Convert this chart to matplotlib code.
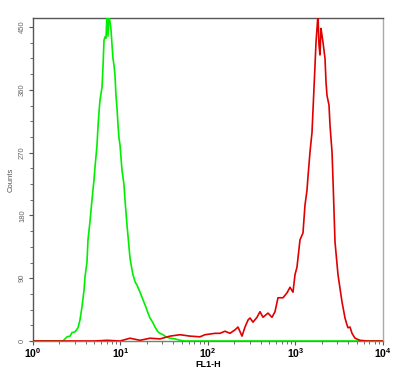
import matplotlib
matplotlib.use("Agg")
import matplotlib.pyplot as plt
from matplotlib.ticker import FixedLocator, NullFormatter, LogLocator

plt.rcParams['font.family'] = ['Liberation Sans', 'DejaVu Sans']
plt.rcParams['mathtext.fontset'] = 'custom'
plt.rcParams['mathtext.rm'] = 'Liberation Sans'
plt.rcParams['mathtext.bf'] = 'Liberation Sans:bold'

# Green histogram (FL1-H intensity, counts)
green_x = [1.0, 2.04, 2.20, 2.32, 2.45, 2.65, 2.79, 3.02, 3.27, 3.44, 3.63, 3.83, 3.93,
           4.14, 4.25, 4.48, 4.72, 4.98, 5.11, 5.39, 5.53, 5.68, 5.83, 5.99, 6.15,
           6.31, 6.48, 6.65, 6.83, 7.01, 7.20, 7.39, 7.59, 7.79, 8.00, 8.21, 8.43,
           8.65, 8.88, 9.12, 9.36, 9.61, 9.87, 10.4, 10.96, 11.26, 11.87, 12.84,
           13.53, 13.9, 14.65, 15.44, 16.71, 18.07, 19.05, 20.62, 21.74, 23.52,
           24.8, 26.83, 28.28, 30.6, 33.1, 36.8, 42.0, 47.9, 54.6, 10000.0]
green_y = [0, 0, 0, 3, 6, 7, 12, 13, 19, 30, 49, 73, 92,
           113, 145, 171, 202, 231, 249, 281, 307, 328, 345, 355, 364,
           393, 431, 436, 434, 468, 437, 468, 457, 446, 424, 405, 395,
           381, 352, 334, 310, 291, 281, 245, 224, 202, 166, 119,
           102, 95, 85, 80, 70, 59, 52, 40, 33, 26,
           20, 13, 11, 9, 6, 4, 3, 1, 0, 0]

# Red histogram
red_x = [1.0, 5.11, 7.01, 9.87, 12.84, 16.71, 21.74, 28.28, 36.8, 47.9, 62.3, 81.0,
         92.4, 105.4, 120.2, 137.1, 156.4, 178.4, 203.5, 220.2, 244.6, 264.8,
         286.5, 302.0, 326.9, 363.1, 392.9, 425.2, 485.1, 538.8, 583.1, 631.0,
         719.7, 799.6, 865.1, 936.3, 987.0, 1040, 1126, 1218, 1284, 1353, 1390,
         1465, 1544, 1585, 1671, 1715, 1761, 1807, 1856, 1905, 1956, 2009, 2062,
         2174, 2232, 2291, 2415, 2480, 2614, 2683, 2828, 3060, 3400, 3679, 3879,
         3981, 4197, 4424, 4786, 5459, 6563, 8103, 10000.0]
red_y = [0, 0, 1, 0, 4, 1, 4, 3, 7, 9, 7, 6,
         9, 10, 11, 11, 14, 11, 16, 20, 7, 20,
         30, 33, 27, 34, 42, 34, 40, 34, 42, 62,
         62, 69, 77, 70, 95, 106, 145, 155, 195, 216, 236,
         271, 299, 331, 395, 428, 448, 468, 424, 410, 448, 438, 428,
         405, 371, 352, 338, 309, 271, 231, 142, 95, 56, 33, 23,
         19, 20, 11, 4, 1, 0, 0, 0]

y_ticks = [0, 90, 180, 270, 360, 450]
x_ticks = [1, 10, 100, 1000, 10000]
x_labels = [r'$\mathbf{10^{0}}$', r'$\mathbf{10^{1}}$', r'$\mathbf{10^{2}}$',
            r'$\mathbf{10^{3}}$', r'$\mathbf{10^{4}}$']

fig = plt.figure(figsize=(4.02, 3.72), dpi=100)
ax = fig.add_axes([33/402, 31/372, 350/402, 323/372])

ax.plot(green_x, green_y, color='#00ee00', lw=1.2, zorder=3)
ax.plot(red_x, red_y, color='#e00000', lw=1.2, zorder=4)

ax.set_xscale('log')
ax.set_xlim(1, 10000)
ax.set_ylim(0, 463)

ax.set_xticks(x_ticks)
ax.set_xticklabels(x_labels, fontsize=7.5)
ax.xaxis.set_minor_locator(LogLocator(base=10, subs=range(2, 10)))
ax.xaxis.set_minor_formatter(NullFormatter())

ax.set_yticks(y_ticks)
ax.set_yticklabels([str(v) for v in y_ticks], fontsize=5.5, color='#666666',
                   rotation=90, va='center')
ax.yaxis.set_minor_locator(FixedLocator([22.5 * i for i in range(21)]))

ax.tick_params(axis='both', which='major', direction='out', length=3, width=0.8,
               color='#555555')
ax.tick_params(axis='x', which='major', pad=1)
ax.tick_params(axis='y', which='major', pad=2)
ax.tick_params(axis='both', which='minor', direction='out', length=2, width=0.6,
               color='#555555')

ax.set_xlabel('FL1-H', fontsize=6.5, fontweight='bold', labelpad=0)
ax.set_ylabel('Counts', fontsize=5.5, color='#555555', labelpad=3)

for s in ['top', 'left']:
    ax.spines[s].set_color('#555555')
    ax.spines[s].set_linewidth(1.0)
ax.spines['bottom'].set_color('#6a8a6a')
ax.spines['bottom'].set_linewidth(1.0)
ax.spines['right'].set_color('#aaaaaa')
ax.spines['right'].set_linewidth(1.0)

fig.savefig('out.png', dpi=100)
